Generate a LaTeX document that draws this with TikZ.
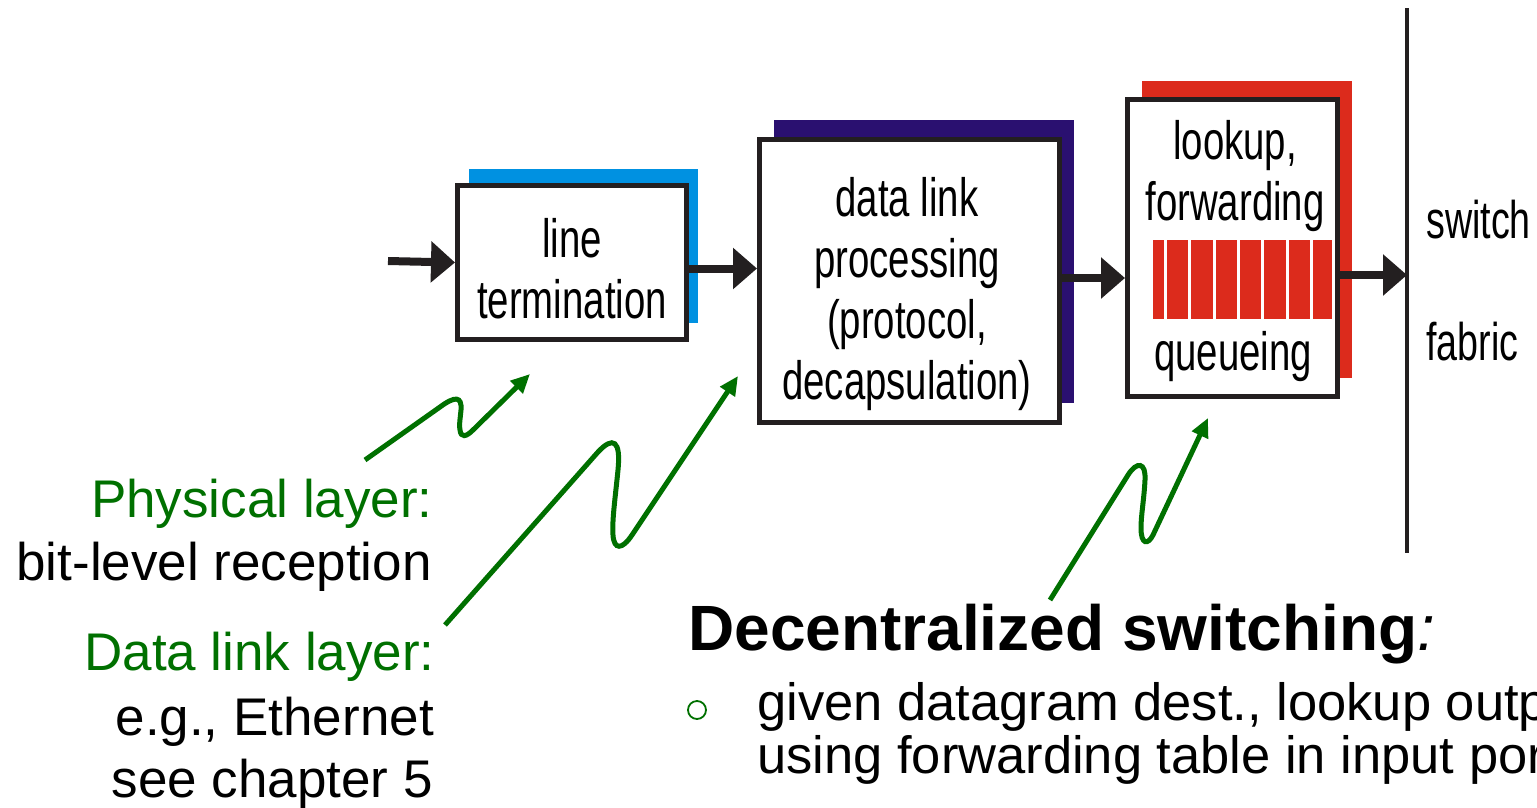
\documentclass[tikz,border=0pt]{standalone}
\usepackage{fontspec}
\setmainfont{Liberation Sans}
\newfontfamily\narrowfont[FakeStretch=0.71]{Liberation Sans}
\usetikzlibrary{arrows.meta,shadows,positioning}

\definecolor{ltblue}{RGB}{0,145,225}
\definecolor{dlnavy}{RGB}{42,16,112}
\definecolor{qred}{RGB}{220,43,28}
\definecolor{lgreen}{RGB}{0,112,0}
\definecolor{boxblack}{RGB}{35,31,32}

\tikzset{
  module/.style={rectangle,draw=boxblack,line width=5pt,fill=white,inner sep=0pt},
  modshadow/.style n args={3}{drop shadow={shadow xshift=#2pt,shadow yshift=#3pt,fill=#1,opacity=1}},
  modtext/.style={inner sep=0pt,align=center,font=\narrowfont\fontsize{54}{61}\selectfont},
  fabtext/.style={inner sep=0pt,anchor=base west,font=\narrowfont\fontsize{53}{61}\selectfont},
  sidetext/.style={inner sep=0pt,anchor=base east,font=\fontsize{53}{63}\selectfont},
  blkarrow/.style={draw=boxblack,line width=8pt,-{Triangle[length=24pt,width=40pt]}},
  gnarrow/.style={draw=lgreen,line width=5pt,-{Triangle[length=19pt,width=17pt]}}
}

\begin{document}
\begin{tikzpicture}[x=1pt,y=-1pt]
    \useasboundingbox (0,0) rectangle (1537,807);
    \clip (0,0) rectangle (1537,807);

    % main modules
      \node[module,modshadow={ltblue}{11}{17},minimum width=229pt,minimum height=154pt] (lt) at (572,262.5) {};
      \node[module,modshadow={dlnavy}{14}{20},minimum width=300pt,minimum height=283pt] (dl) at (909.5,281) {};
      \node[module,modshadow={qred}{14}{19},minimum width=210pt,minimum height=297pt] (lk) at (1232.5,248) {};

      \node[modtext,anchor=north] (lttext) at (572,218.3) {line\\termination};
      \node[modtext,anchor=north] (dltext) at (907,177) {data link\\processing\\(protocol,\\decapsulation)};
      \node[modtext,anchor=north] (lktext) at (1235,120) {lookup,\\forwarding};
      \node[modtext,anchor=base] (qtext) at (1233,370) {queueing};

      % queue
      \node[rectangle,fill=qred,inner sep=0pt,minimum width=179pt,minimum height=79pt] (queue) at (1242.5,279.5) {};
      \foreach \i in {0,...,6}
        \draw[white,line width=3pt] ([xshift={12.5+24.35*\i}]queue.north west) -- ([xshift={12.5+24.35*\i}]queue.south west);

      % switch fabric
      \coordinate (fabtop) at (1407,8);
      \coordinate (fabbot) at (1407,553);
      \draw[boxblack,line width=4.5pt] (fabtop) -- (fabbot);
      \node[fabtext] (switch) at (1426,238) {switch};
      \node[fabtext] (fabric) at (1426,360) {fabric};

      % basic connections
      \coordinate (inpt) at (388,261);
      \draw[blkarrow] (inpt) -- (lt.west);
      \draw[blkarrow] ([yshift=-6pt]lt.east) -- ([yshift=-6pt]dl.west |- lt.east);
      \draw[blkarrow] ([yshift=3pt]dl.east) -- ([yshift=3pt]lk.west |- dl.east);
      \draw[blkarrow] ([yshift=-27pt]lk.east) -- ([yshift=-27pt]lk.east -| fabtop);

      % layers
      \node[sidetext,lgreen] (phys) at (433,517) {Physical layer:};
      \node[sidetext] (physrx) at (432,580) {bit-level reception};
      \node[sidetext,lgreen] (dlink) at (435,670) {Data link layer:};
      \node[sidetext] (eth) at (434,735) {e.g., Ethernet};
      \node[sidetext] (chap) at (433,797) {see chapter 5};

      \coordinate (physfrom) at (365,460);
      \coordinate (physto) at (530,374);
      \draw[gnarrow] (physfrom) -- (440,407) .. controls (455,396) and (462,396) .. (461,410)
        .. controls (460,420) and (459,426) .. (460,430) .. controls (461,438) and (466,437) .. (473,430) -- (physto);

      \coordinate (dlfrom) at (445,625);
      \coordinate (dlto) at (738,376);
      \draw[gnarrow] (dlfrom) -- (598,452) .. controls (613,436) and (621,440) .. (618,470)
        .. controls (615,500) and (612,520) .. (613,535) .. controls (614,550) and (622,550) .. (632,535) -- (dlto);

      \coordinate (lkfrom) at (1050,600);
      \coordinate (lkto) at (1208,418);
      \draw[gnarrow] (lkfrom) -- (1128,475) .. controls (1137,461) and (1146,462) .. (1145,480)
        .. controls (1144,500) and (1141,515) .. (1141,528) .. controls (1141,545) and (1148,545) .. (1153,535) -- (lkto);

      % decentralized switching
      \node[inner sep=0pt,anchor=base west,font=\fontsize{64}{70}\selectfont] (title) at (688,650) {\textbf{Decentralized switching}\textit{:}};
      \node[circle,draw=lgreen,line width=1.8pt,minimum size=18pt,inner sep=0pt] (bullet) at (697,710) {};
      \node[inner sep=0pt,anchor=base west,font=\fontsize{52.5}{53}\selectfont] (given) at (757,720) {given datagram dest., lookup output};
      \node[inner sep=0pt,anchor=base west,font=\fontsize{52.5}{53}\selectfont] (using) at (757,773) {using forwarding table in input port};

\end{tikzpicture}
\end{document}
